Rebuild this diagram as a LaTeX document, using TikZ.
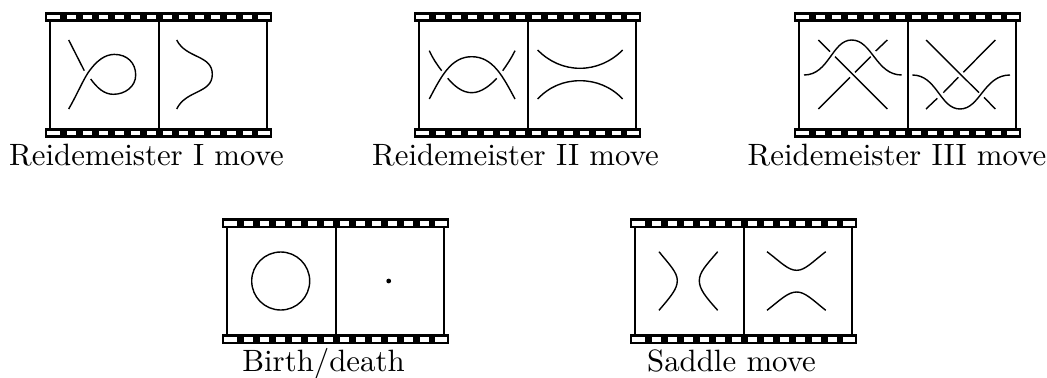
\documentclass[tikz,border=0pt]{standalone}

\tikzset{
frameline/.style={line width=0.45pt},
strand/.style={line width=0.42pt},
caption/.style={anchor=base, inner sep=0pt, scale=0.925}
}

% film with two frames, origin at top of the left frame line
\newcommand{\filmframes}{
\fill[black] (-5.5,0) rectangle (222,10);
\fill[black] (-5.5,116) rectangle (222,126);
\foreach \ytop in {0,116} {
\fill[white] (-3,2.8+\ytop) rectangle (9.7,7.2+\ytop);
\fill[white] (207.8,2.8+\ytop) rectangle (219.5,7.2+\ytop);
\foreach \k in {1,...,12} {
\fill[white] ({0.5+16*\k},2.8+\ytop) rectangle ({10.4+16*\k},7.2+\ytop);
}
}
\draw[frameline] (0,10) -- (0,116);
\draw[frameline] (108.9,10) -- (108.9,116);
\draw[frameline] (217,10) -- (217,116);
}

\begin{document}
\begin{tikzpicture}[x=0.3pt, y=-0.3pt]

\useasboundingbox (0,0) rectangle (1047,377);

% =====================================================
% Reidemeister I
% =====================================================

\begin{scope}[shift={(50,11.7)}]
\filmframes
\draw[strand] (18.7,28.3) -- (34.3,59);
\draw[strand] (18.7,97.3) .. controls (28,81) and (34,66) .. (40,58.3)
.. controls (47,49) and (55,42.7) .. (64.3,42.7)
.. controls (77,42.7) and (85.7,51) .. (85.7,63.3)
.. controls (85.7,75) and (75,82.6) .. (63.3,82.6)
.. controls (54,82.6) and (47,76) .. (40.7,67.3);
\draw[strand] (126.7,28.3) .. controls (136,47) and (162.3,43) .. (162.3,62.6)
.. controls (162.3,82) and (136,78) .. (126.7,97.3);
\node (labelone) [caption] at (96.5,154) {Reidemeister I move};
\end{scope}

% =====================================================
% Reidemeister II
% =====================================================

\begin{scope}[shift={(419,11.7)}]
\filmframes
\draw[strand] (10.3,87.3) .. controls (22,65) and (32,45) .. (52.7,45)
.. controls (74,45) and (84,65) .. (96,87.3);
\draw[strand] (10.3,39) .. controls (14,47) and (18,53) .. (22.7,59);
\draw[strand] (28.7,66.6) .. controls (35,74) and (43,81) .. (52.7,81)
.. controls (62,81) and (71,74) .. (77.7,66.6);
\draw[strand] (83.7,59) .. controls (88,53) and (92,47) .. (96,39);
\draw[strand] (118.7,38.3) .. controls (130,50) and (145,56.6) .. (161,56.6)
.. controls (177,56.6) and (192,50) .. (203.7,38.3);
\draw[strand] (118.7,87.3) .. controls (130,75) and (145,69) .. (161,69)
.. controls (177,69) and (192,75) .. (203.7,87.3);
\node (labeltwo) [caption] at (96.5,154) {Reidemeister II move};
\end{scope}

% =====================================================
% Reidemeister III
% =====================================================

\begin{scope}[shift={(799,11.7)}]
\filmframes
\draw[strand] (5,63.3) .. controls (30,63.3) and (33,28.3) .. (52.7,28.3)
.. controls (73,28.3) and (77,63.3) .. (102.7,63.3);
\draw[strand] (19.3,97.3) -- (51,65.6);
\draw[strand] (56,60.6) -- (71.7,45);
\draw[strand] (76.7,39.3) -- (88.3,28.3);
\draw[strand] (19.3,28.3) -- (31,40);
\draw[strand] (36,45) -- (88.3,97.3);
\draw[strand] (113.3,63.3) .. controls (138,63.3) and (141,97.3) .. (161,97.3)
.. controls (181,97.3) and (185,63.3) .. (211,63.3);
\draw[strand] (127,28.3) -- (180,81);
\draw[strand] (185,85.6) -- (196.3,97.3);
\draw[strand] (196.3,28.3) -- (164.3,60.6);
\draw[strand] (159.3,65.6) -- (144.3,81);
\draw[strand] (138.3,86.6) -- (127,97.3);
\node (labelthree) [caption] at (98,154) {Reidemeister III move};
\end{scope}

% =====================================================
% Birth and death
% =====================================================

\begin{scope}[shift={(227,218.3)}]
\filmframes
\draw[strand] (53.7,62.7) circle[radius=29*0.3pt];
\fill (161.7,62.7) circle[radius=2.4*0.3pt];
\node (labelfour) [caption] at (96.5,153.4) {Birth/death};
\end{scope}

% =====================================================
% Saddle
% =====================================================

\begin{scope}[shift={(635,218.3)}]
\filmframes
\draw[strand] (24,33.4) .. controls (35,47) and (42.3,54) .. (42.3,62.4)
.. controls (42.3,71) and (35,79) .. (24,92);
\draw[strand] (82.7,33.4) .. controls (71,47) and (64.3,54) .. (64.3,62.4)
.. controls (64.3,71) and (71,79) .. (82.7,92);
\draw[strand] (132,33.4) .. controls (146,44) and (153,52) .. (161.7,52)
.. controls (170,52) and (177,44) .. (190.7,33.4);
\draw[strand] (132,92) .. controls (146,81) and (153,73.7) .. (161.7,73.7)
.. controls (170,73.7) and (177,81) .. (190.7,92);
\node (labelfive) [caption] at (96.5,153.4) {Saddle move};
\end{scope}

\end{tikzpicture}
\end{document}
